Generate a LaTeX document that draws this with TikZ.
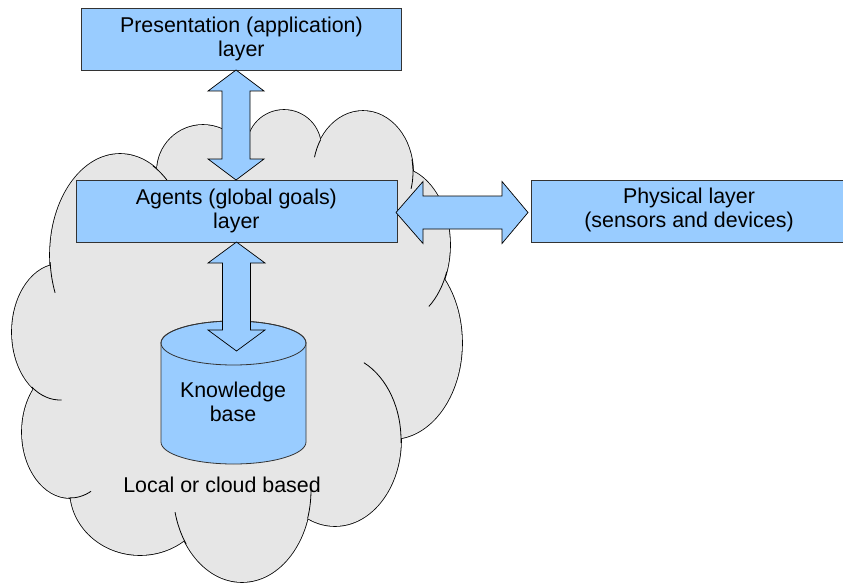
\documentclass[tikz,border=0pt]{standalone}
\usepackage{fontspec}
\setmainfont{Liberation Sans}
\definecolor{boxblue}{HTML}{99CCFF}
\definecolor{cloudgray}{HTML}{E6E6E6}
\definecolor{edge}{HTML}{333333}
\begin{document}
\begin{tikzpicture}[x=1pt,y=-1pt,
  box/.style={draw=edge, line width=0.8pt, fill=boxblue, inner sep=0pt},
  lbl/.style={font=\fontsize{21.4}{24}\selectfont, align=center, inner sep=0pt},
  blockarrow/.style={draw=black, line width=0.7pt, fill=boxblue, line join=miter},
  cloudline/.style={draw=black, line width=0.8pt}]
\useasboundingbox (0,0) rectangle (843,583);

% ---- cloud: stroke pass, then fill pass ----
\foreach \cx/\cy/\rx/\ry in {203/171/46/46, 284/147/37/37, 363/172/50/61, 395/245/55/78,
  392/343/70/96, 335/440/66/86, 242/490/69/92, 140/490/70/65, 70/432/48/66,
  60/332/48/68, 120/255/70/101}
  \draw[draw=black, line width=1.6pt] (\cx,\cy) ellipse[x radius=\rx, y radius=\ry];
\foreach \cx/\cy/\rx/\ry in {203/171/46/46, 284/147/37/37, 363/172/50/61, 395/245/55/78,
  392/343/70/96, 335/440/66/86, 242/490/69/92, 140/490/70/65, 70/432/48/66,
  60/332/48/68, 120/255/70/101}
  \fill[cloudgray] (\cx,\cy) ellipse[x radius=\rx, y radius=\ry];
\fill[cloudgray] (162,175) -- (240,145) -- (322,140) -- (410,172) -- (444,280) --
  (400,436) -- (309,508) -- (184,536) -- (78,495) -- (35,390) -- (52,270) -- cycle;
% interior strokes of the cloud
\foreach \cx/\cy/\rx/\ry/\a/\b in {363/172/50/61/194/212, 363/172/50/61/-12/16,
  395/245/55/78/20/52, 335/440/66/86/-64/2, 242/490/69/92/-3/18, 242/490/69/92/144/166,
  70/432/48/66/64/92, 60/332/48/68/88/126, 120/255/70/101/158/176, 120/255/70/101/-62/-44}
  \draw[cloudline] ({\cx+\rx*cos(\a)},{\cy+\ry*sin(\a)})
     arc[start angle=\a, end angle=\b, x radius=\rx, y radius=\ry];

% ---- boxes ----
\node[box, minimum width=320pt, minimum height=62pt, anchor=north west] (pres) at (81,8) {};
\node[box, minimum width=321pt, minimum height=62pt, anchor=north west] (agents) at (75.5,179.5) {};
\node[box, minimum width=316pt, minimum height=62pt, anchor=north west] (phys) at (531,180) {};

% ---- cylinder ----
\path[fill=boxblue, draw=edge, line width=0.8pt] (161,343) -- (161,442)
  arc[start angle=180, end angle=0, x radius=72.5, y radius=22] -- (306,343)
  arc[start angle=0, end angle=-180, x radius=72.5, y radius=22] -- cycle;
\draw[edge, line width=0.8pt] (233.5,343) ellipse[x radius=72.5, y radius=22];
\node[lbl] (kb) at (233,402) {Knowledge\\base};

% ---- block arrows ----
\path[blockarrow] (236,70) -- (264,91) -- (250,91) -- (250,159) -- (264,159) -- (236,180)
  -- (208,159) -- (222,159) -- (222,91) -- (208,91) -- cycle;
\path[blockarrow] (236.5,242) -- (265,263) -- (250.5,263) -- (250.5,330) -- (265,330)
  -- (236.5,351) -- (208,330) -- (222.5,330) -- (222.5,263) -- (208,263) -- cycle;
\path[blockarrow] (396,212.5) -- (423,181.5) -- (423,196) -- (502,196) -- (502,181.5)
  -- (528,212.5) -- (502,243.5) -- (502,229) -- (423,229) -- (423,243.5) -- cycle;

% ---- labels ----
\node[lbl] (presl) at (pres.center) {Presentation (application)\\layer};
\node[lbl] (agentsl) at (agents.center) {Agents (global goals)\\layer};
\node[lbl] (physl) at (689,210) {Physical layer\\(sensors and devices)};
\node[lbl, anchor=base] (local) at (222,492) {Local or cloud based};
\end{tikzpicture}
\end{document}
